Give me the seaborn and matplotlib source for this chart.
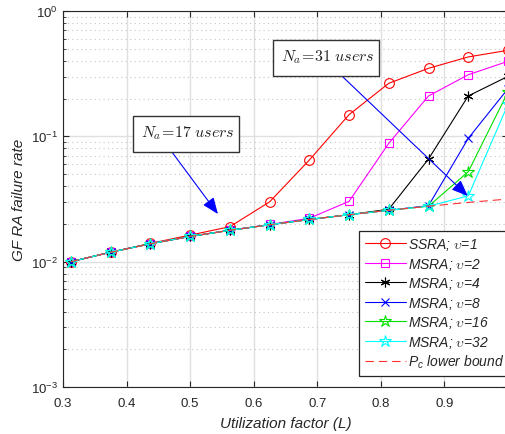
import matplotlib
matplotlib.use("Agg")
import matplotlib.pyplot as plt
import seaborn as sns
from matplotlib.patches import Rectangle
from matplotlib.ticker import LogLocator, NullFormatter

# ---------------- data ----------------
L = [0.3125, 0.375, 0.4375, 0.5, 0.5625, 0.625, 0.6875, 0.75, 0.8125, 0.875, 0.9375, 1.0]
ssra = [0.0100, 0.0119, 0.0140, 0.0163, 0.0190, 0.0300, 0.0647, 0.149, 0.265, 0.349, 0.430, 0.486]
msra2 = [0.0100, 0.0119, 0.0139, 0.0159, 0.0178, 0.0198, 0.0222, 0.0303, 0.088, 0.210, 0.310, 0.397]
msra4 = [0.0100, 0.0119, 0.0139, 0.0159, 0.0178, 0.0197, 0.0217, 0.0237, 0.0262, 0.066, 0.210, 0.301]
msra8 = [0.0100, 0.0119, 0.0139, 0.0159, 0.0178, 0.0197, 0.0217, 0.0237, 0.0257, 0.0280, 0.0964, 0.240]
msra16 = [0.0100, 0.0119, 0.0139, 0.0159, 0.0178, 0.0197, 0.0217, 0.0237, 0.0257, 0.0277, 0.0522, 0.226]
msra32 = [0.0100, 0.0119, 0.0139, 0.0159, 0.0178, 0.0197, 0.0217, 0.0237, 0.0257, 0.0277, 0.0335, 0.180]
pc_bound = [0.0100, 0.0119, 0.0139, 0.0159, 0.0178, 0.0197, 0.0217, 0.0237, 0.0257, 0.0277, 0.0297, 0.0316]

labels = [r"SSRA; $\upsilon$=1", r"MSRA; $\upsilon$=2", r"MSRA; $\upsilon$=4",
          r"MSRA; $\upsilon$=8", r"MSRA; $\upsilon$=16", r"MSRA; $\upsilon$=32"]
bound_label = r"$P_c$ lower bound"
xticks = [0.3, 0.4, 0.5, 0.6, 0.7, 0.8, 0.9]
xlabel = "Utilization factor (L)"
ylabel = "GF RA failure rate"
note1 = r"$N_a\!=\!17\ users$"
note2 = r"$N_a\!=\!31\ users$"

# ---------------- style ----------------
sns.set_style("ticks")
plt.rcParams["font.family"] = ["Liberation Sans", "DejaVu Sans"]
plt.rcParams["mathtext.fontset"] = "custom"
plt.rcParams["mathtext.rm"] = "Liberation Sans"
plt.rcParams["mathtext.it"] = "Liberation Sans:italic"
dark = "#262626"

W, H = 506, 435
fig = plt.figure(figsize=(W / 100, H / 100), dpi=100)
ax = fig.add_axes([63 / W, (H - 388) / H, 445 / W, 376 / H])

series = [ssra, msra2, msra4, msra8, msra16, msra32]
colors = ["#ff0000", "#ff00ff", "#000000", "#0000ff", "#00e000", "#00ffff"]
markers = ["o", "s", (6, 2, 0), "x", "*", "*"]
msizes = [7, 6, 7, 6, 9, 9]

for vals, lab, col, mk, ms in zip(series, labels, colors, markers, msizes):
    sns.lineplot(x=L, y=vals, ax=ax, color=col, marker=mk, markersize=ms,
                 markerfacecolor="none", markeredgecolor=col, markeredgewidth=0.8,
                 linewidth=0.8, label=lab, sort=False, estimator=None)
sns.lineplot(x=L, y=pc_bound, ax=ax, color="#ff3030", linewidth=0.8,
             linestyle=(0, (7.5, 4.5)), label=bound_label, sort=False, estimator=None)

ax.set_yscale("log")
ax.set_xlim(0.3, 1.0)
ax.set_ylim(1e-3, 1)
ax.set_xticks(xticks)
ax.set_xticklabels([f"{t:.1f}" for t in xticks])
ax.yaxis.set_major_locator(LogLocator(base=10, numticks=10))
ax.yaxis.set_minor_locator(LogLocator(base=10, subs=range(2, 10), numticks=50))
ax.yaxis.set_minor_formatter(NullFormatter())

ax.grid(True, which="major", color="#e0e0e0", linewidth=1.0)
ax.grid(True, which="minor", axis="y", color="#c4c4c4", linewidth=0.8, linestyle=(0, (1, 3)))
ax.set_axisbelow(True)

for s in ax.spines.values():
    s.set_color(dark)
    s.set_linewidth(0.8)
ax.tick_params(axis="both", which="major", direction="in", length=4, width=0.8,
               colors=dark, labelsize=9.5, top=True, right=True)
ax.tick_params(axis="y", which="minor", direction="in", length=2.5, width=0.6,
               colors=dark, right=True)
ax.tick_params(axis="x", pad=7.5)
ax.tick_params(axis="y", pad=3.5)

ax.set_xlabel(xlabel, fontsize=11, fontstyle="italic", color=dark, labelpad=4.5)
ax.set_ylabel(ylabel, fontsize=11, fontstyle="italic", color=dark, labelpad=4)

leg = ax.legend(loc="lower left", bbox_to_anchor=(359 / W, 58 / H),
                bbox_transform=fig.transFigure, borderaxespad=0,
                fontsize=10, frameon=True, fancybox=False, framealpha=1,
                edgecolor=dark, handlelength=2.95, handletextpad=0.2,
                borderpad=0.4, labelspacing=0.25)
leg.get_frame().set_linewidth(0.9)
for i, t in enumerate(leg.get_texts()):
    t.set_fontstyle("italic")
    t.set_color(dark)
    if i < 6:
        t.set_math_fontfamily("cm")


def fx(px):
    return px / W


def fy(py):
    return 1 - py / H


# annotation boxes
for (x0, y0, x1, y1), txt in [((133, 117, 239, 153), note1), ((273, 41, 379, 77), note2)]:
    fig.add_artist(Rectangle((fx(x0), fy(y1)), fx(x1 - x0), (y1 - y0) / H,
                             transform=fig.transFigure, facecolor="white",
                             edgecolor="#333333", linewidth=1.0, zorder=5))
    fig.text(fx(x0 + 8), fy(y0 + 20), txt, fontsize=11.5, ha="left",
             va="baseline", math_fontfamily="cm", color="#222222", zorder=6)

# arrows (tail at box bottom, head at target)
arrow_style = dict(arrowstyle="-|>,head_length=0.5,head_width=0.2", color="#0000ff",
                   lw=0.8, mutation_scale=20, shrinkA=0, shrinkB=0)
ax.annotate("", xy=(0.5437, 0.0240), xytext=(0.4714, 0.0749), xycoords="data",
            arrowprops=arrow_style, annotation_clip=False, zorder=7)
ax.annotate("", xy=(0.9368, 0.0334), xytext=(0.7387, 0.303), xycoords="data",
            arrowprops=arrow_style, annotation_clip=False, zorder=7)

fig.savefig("out.png", dpi=100)
